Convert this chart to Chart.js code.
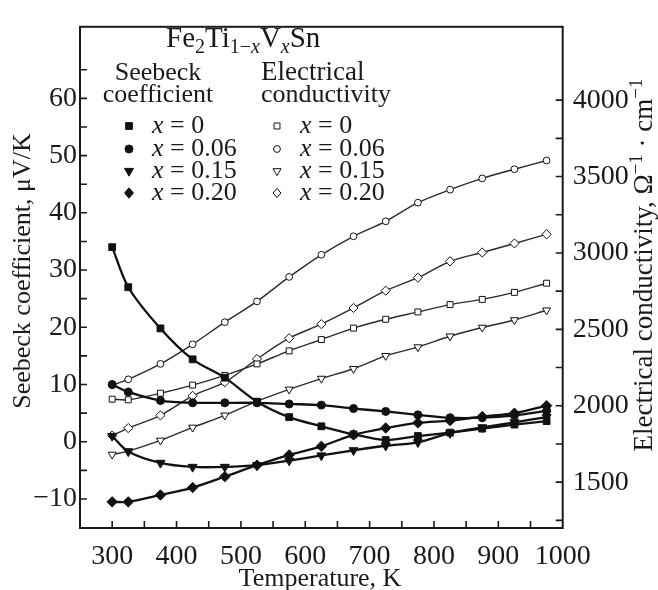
<!DOCTYPE html>
<html>
<head>
<meta charset="utf-8">
<script src="https://cdn.jsdelivr.net/npm/chart.js@4.4.0/dist/chart.umd.min.js"></script>
<style>
  html, body { margin: 0; padding: 0; background: #ffffff; }
  #wrap { width: 658px; height: 590px; position: relative; }
</style>
</head>
<body>
<div id="wrap"><canvas id="chart" width="658" height="590"></canvas></div>
<script>
// Measurement temperatures, K
const temperatures = [300, 325, 375, 425, 475, 525, 575, 625, 675, 725, 775, 825, 875, 925, 975];

// Seebeck coefficient, µV/K (left axis)
const seebeckX000 = [34.0, 27.0, 19.8, 14.4, 11.2, 7.0, 4.3, 2.7, 1.3, 0.3, 1.0, 1.6, 2.3, 3.0, 3.6];
const seebeckX006 = [10.0, 8.7, 7.2, 6.8, 6.8, 6.8, 6.6, 6.4, 5.8, 5.3, 4.7, 4.2, 4.2, 4.6, 5.4];
const seebeckX015 = [1.0, -1.7, -3.7, -4.4, -4.4, -4.1, -3.3, -2.4, -1.5, -0.7, -0.1, 1.5, 2.5, 3.4, 4.3];
const seebeckX020 = [-10.5, -10.5, -9.3, -8.0, -6.1, -4.1, -2.3, -0.8, 1.2, 2.4, 3.3, 3.7, 4.4, 5.0, 6.3];

// Electrical conductivity, Ohm^-1 cm^-1 (right axis)
const conductX000 = [2043, 2039, 2082, 2135, 2199, 2274, 2359, 2433, 2508, 2566, 2614, 2662, 2696, 2742, 2802];
const conductX006 = [2135, 2173, 2274, 2402, 2547, 2683, 2843, 2988, 3109, 3207, 3329, 3414, 3488, 3548, 3605];
const conductX015 = [1681, 1703, 1773, 1858, 1937, 2029, 2107, 2178, 2242, 2327, 2384, 2455, 2512, 2561, 2625];
const conductX020 = [1805, 1854, 1937, 2065, 2154, 2306, 2442, 2534, 2640, 2753, 2838, 2945, 3003, 3062, 3122];

// Axis labels and tick marks
const xTickLabels = [300, 400, 500, 600, 700, 800, 900, 1000];
const xTickMarks = [300, 350, 400, 450, 500, 550, 600, 650, 700, 750, 800, 850, 900, 950];
const leftTickLabels = [-10, 0, 10, 20, 30, 40, 50, 60];
const leftTickMarks = [-15, -10, -5, 0, 5, 10, 15, 20, 25, 30, 35, 40, 45, 50, 55, 60, 65];
const rightTickLabels = [1500, 2000, 2500, 3000, 3500, 4000];
const rightTickMarks = [1250, 1500, 1750, 2000, 2250, 2500, 2750, 3000, 3250, 3500, 3750, 4000];

const compositions = ['0', '0.06', '0.15', '0.20'];

const SERIF = "'Liberation Serif', 'Times New Roman', serif";
const INK = '#1a1a1a';

const markerStyles = [
  { pointStyle: 'rect', rotation: 0, radius: 4.8 },
  { pointStyle: 'circle', rotation: 0, radius: 4.0 },
  { pointStyle: 'triangle', rotation: 180, radius: 5.2 },
  { pointStyle: 'rectRot', rotation: 0, radius: 5.2 }
];

function toPoints(values) {
  return temperatures.map((t, i) => ({ x: t, y: values[i] }));
}

const seebeckSeries = [seebeckX000, seebeckX006, seebeckX015, seebeckX020];
const conductSeries = [conductX000, conductX006, conductX015, conductX020];

const datasets = [];
conductSeries.forEach((vals, i) => {
  const m = markerStyles[i];
  datasets.push({
    label: 'Electrical conductivity, x = ' + compositions[i],
    data: toPoints(vals),
    yAxisID: 'yR',
    borderColor: '#2b2b2b',
    borderWidth: 1.4,
    backgroundColor: '#ffffff',
    pointBackgroundColor: '#ffffff',
    pointBorderColor: '#111111',
    pointBorderWidth: 1,
    pointStyle: m.pointStyle,
    pointRotation: m.rotation,
    pointRadius: m.radius - 0.6,
    tension: 0.3,
    order: 2
  });
});
seebeckSeries.forEach((vals, i) => {
  const m = markerStyles[i];
  datasets.push({
    label: 'Seebeck coefficient, x = ' + compositions[i],
    data: toPoints(vals),
    yAxisID: 'yL',
    borderColor: '#111111',
    borderWidth: 2.3,
    backgroundColor: '#111111',
    pointBackgroundColor: '#111111',
    pointBorderColor: '#111111',
    pointBorderWidth: 1,
    pointStyle: m.pointStyle,
    pointRotation: m.rotation,
    pointRadius: m.radius,
    tension: 0.3,
    order: 1
  });
});

// Draws a run of text pieces (normal, italic, sub/superscript) on one baseline.
function richWidth(ctx, segs) {
  let w = 0;
  segs.forEach(s => {
    ctx.font = (s.italic ? 'italic ' : '') + s.size + 'px ' + SERIF;
    w += ctx.measureText(s.t).width;
  });
  return w;
}
function drawRich(ctx, segs, x, y, align) {
  const w = richWidth(ctx, segs);
  let cx = x;
  if (align === 'center') cx = x - w / 2;
  else if (align === 'right') cx = x - w;
  ctx.textAlign = 'left';
  ctx.textBaseline = 'alphabetic';
  segs.forEach(s => {
    ctx.font = (s.italic ? 'italic ' : '') + s.size + 'px ' + SERIF;
    ctx.fillText(s.t, cx, y + (s.dy || 0));
    cx += ctx.measureText(s.t).width;
  });
}

function drawMarker(ctx, style, x, y, filled) {
  ctx.save();
  ctx.lineWidth = 1;
  ctx.strokeStyle = '#111111';
  ctx.fillStyle = filled ? '#111111' : '#ffffff';
  const r = style.radius;
  ctx.beginPath();
  if (style.pointStyle === 'rect') {
    const s = Math.SQRT1_2 * r;
    ctx.rect(x - s, y - s, 2 * s, 2 * s);
  } else if (style.pointStyle === 'circle') {
    ctx.arc(x, y, r, 0, Math.PI * 2);
  } else if (style.pointStyle === 'triangle') {
    ctx.moveTo(x - r * 0.87, y - r * 0.5);
    ctx.lineTo(x + r * 0.87, y - r * 0.5);
    ctx.lineTo(x, y + r);
    ctx.closePath();
  } else {
    ctx.moveTo(x, y - r);
    ctx.lineTo(x + r * 0.85, y);
    ctx.lineTo(x, y + r);
    ctx.lineTo(x - r * 0.85, y);
    ctx.closePath();
  }
  ctx.fill();
  ctx.stroke();
  ctx.restore();
}

const framePlugin = {
  id: 'frameAndTicks',
  afterDatasetsDraw(chart) {
    const { ctx, chartArea: a, scales } = chart;
    ctx.save();
    ctx.strokeStyle = INK;
    ctx.lineWidth = 2;
    ctx.strokeRect(a.left, a.top, a.right - a.left, a.bottom - a.top);
    ctx.lineWidth = 1.6;
    const len = 7;
    ctx.beginPath();
    xTickMarks.forEach(v => {
      const px = scales.x.getPixelForValue(v);
      ctx.moveTo(px, a.bottom);
      ctx.lineTo(px, a.bottom - len);
    });
    leftTickMarks.forEach(v => {
      const py = scales.yL.getPixelForValue(v);
      if (py < a.top + 1 || py > a.bottom - 1) return;
      ctx.moveTo(a.left, py);
      ctx.lineTo(a.left + len, py);
    });
    rightTickMarks.forEach(v => {
      const py = scales.yR.getPixelForValue(v);
      if (py < a.top + 1 || py > a.bottom - 1) return;
      ctx.moveTo(a.right, py);
      ctx.lineTo(a.right - len, py);
    });
    ctx.stroke();
    ctx.restore();
  },
  afterDraw(chart) {
    const ctx = chart.ctx;
    ctx.save();
    ctx.fillStyle = INK;

    // Compound formula
    drawRich(ctx, [
      { t: 'Fe', size: 29 },
      { t: '2', size: 20, dy: 6 },
      { t: 'Ti', size: 29 },
      { t: '1\u2212', size: 20, dy: 6 },
      { t: 'x', size: 20, dy: 6, italic: true },
      { t: 'V', size: 29 },
      { t: 'x', size: 20, dy: 6, italic: true },
      { t: 'Sn', size: 29 }
    ], 166, 47, 'left');

    // Column headers
    drawRich(ctx, [{ t: 'Seebeck', size: 26 }], 158, 80, 'center');
    drawRich(ctx, [{ t: 'coefficient', size: 26 }], 158, 102, 'center');
    drawRich(ctx, [{ t: 'Electrical', size: 27 }], 261, 80, 'left');
    drawRich(ctx, [{ t: 'conductivity', size: 26 }], 261, 102, 'left');

    // Legend rows
    const rowY = [126, 149, 171, 193];
    compositions.forEach((c, i) => {
      const y = rowY[i];
      drawMarker(ctx, markerStyles[i], 129, y, true);
      drawMarker(ctx, { pointStyle: markerStyles[i].pointStyle, radius: markerStyles[i].radius - 0.6 }, 277, y, false);
      const segs = [
        { t: 'x', size: 26, italic: true },
        { t: ' = ' + c, size: 26 }
      ];
      ctx.fillStyle = INK;
      drawRich(ctx, segs, 152, y + 7, 'left');
      drawRich(ctx, segs, 300, y + 7, 'left');
    });

    // Axis titles
    drawRich(ctx, [{ t: 'Temperature, K', size: 26 }], 320, 586, 'center');

    ctx.save();
    ctx.translate(30, 271);
    ctx.rotate(-Math.PI / 2);
    drawRich(ctx, [{ t: 'Seebeck coefficient, \u03bcV/K', size: 26 }], 0, 0, 'center');
    ctx.restore();

    ctx.save();
    ctx.translate(652, 265);
    ctx.rotate(-Math.PI / 2);
    drawRich(ctx, [
      { t: 'Electrical conductivity, \u03a9', size: 27 },
      { t: '\u22121', size: 19, dy: -10 },
      { t: ' \u00b7 cm', size: 27 },
      { t: '\u22121', size: 19, dy: -10 }
    ], 0, 0, 'center');
    ctx.restore();

    ctx.restore();
  }
};

const tickFont = { family: SERIF, size: 28 };
const plainLabel = v => String(v).replace('-', '\u2212');

new Chart(document.getElementById('chart'), {
  type: 'line',
  data: { datasets },
  options: {
    responsive: false,
    animation: false,
    devicePixelRatio: 1,
    layout: { padding: { top: 15, left: 0, right: 0, bottom: 0 } },
    plugins: { legend: { display: false }, tooltip: { enabled: false } },
    scales: {
      x: {
        type: 'linear',
        min: 250,
        max: 1000,
        afterBuildTicks: s => { s.ticks = xTickLabels.map(v => ({ value: v })); },
        afterFit: s => { s.height = 62; },
        grid: { display: false, drawTicks: false },
        border: { display: false },
        ticks: { font: tickFont, color: INK, padding: 12, maxRotation: 0, autoSkip: false, callback: plainLabel }
      },
      yL: {
        type: 'linear',
        position: 'left',
        min: -15.07,
        max: 72.5,
        afterBuildTicks: s => { s.ticks = leftTickLabels.map(v => ({ value: v })); },
        afterFit: s => { s.width = 80; },
        grid: { display: false, drawTicks: false },
        border: { display: false },
        ticks: { font: tickFont, color: INK, padding: 3, autoSkip: false, callback: plainLabel }
      },
      yR: {
        type: 'linear',
        position: 'right',
        min: 1200,
        max: 4480,
        afterBuildTicks: s => { s.ticks = rightTickLabels.map(v => ({ value: v })); },
        afterFit: s => { s.width = 95.3; },
        grid: { display: false, drawTicks: false },
        border: { display: false },
        ticks: { font: tickFont, color: INK, padding: 10, autoSkip: false, callback: plainLabel }
      }
    }
  },
  plugins: [framePlugin]
});
</script>
</body>
</html>
